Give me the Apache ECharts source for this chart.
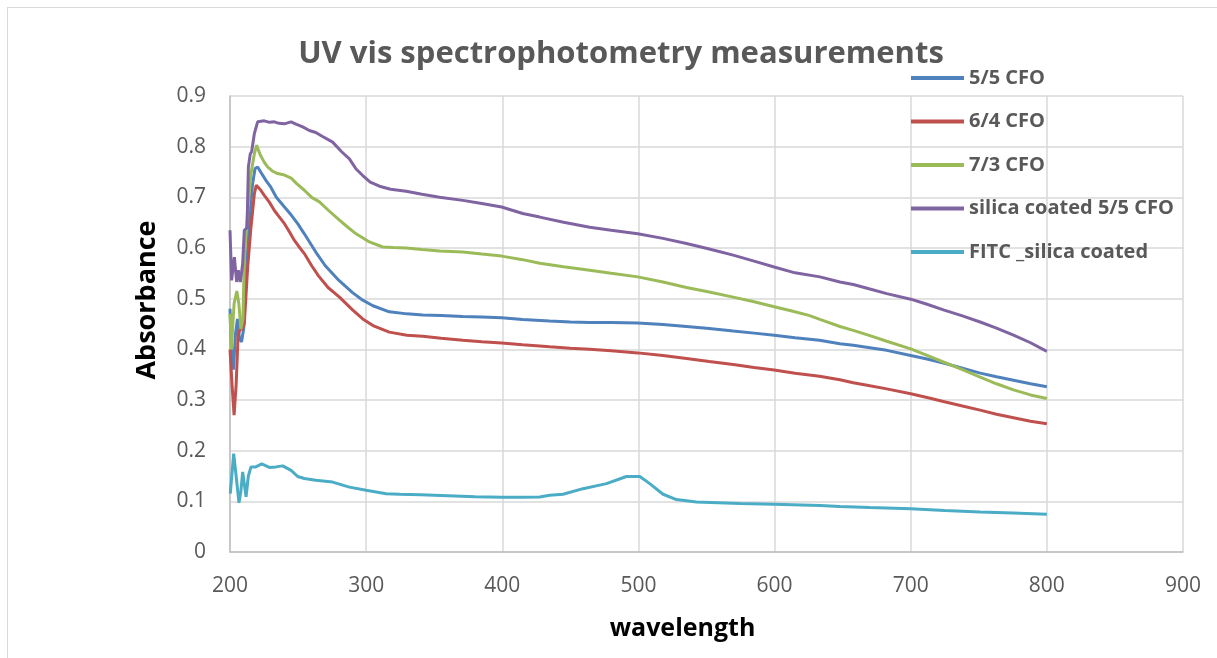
<!DOCTYPE html>
<html>
<head>
<meta charset="utf-8">
<script src="https://cdn.jsdelivr.net/npm/echarts@6/dist/echarts.min.js"></script>
<style>
  html, body { margin: 0; padding: 0; background: #fff; }
  #frame { position: absolute; left: 7px; top: 7px; width: 1300px; height: 700px; border: 1.5px solid #d9d9d9; }
  #container { position: absolute; left: 0; top: 0; width: 1217px; height: 658px; }
</style>
</head>
<body>
<div id="frame"></div>
<div id="container"></div>
<script>
/* wavelength (nm) / absorbance pairs */
var names = ['5/5 CFO', '6/4 CFO', '7/3 CFO', 'silica coated 5/5 CFO', 'FITC _silica coated'];
var colors = ['#4F81BD', '#C0504D', '#9BBB59', '#8064A2', '#4BACC6'];

var cfo55 = [
    [200, 0.48], [201, 0.40], [202.5, 0.36], [204, 0.43], [205.5, 0.46], [207, 0.42], [208.5, 0.415],
    [210, 0.44], [211.8, 0.543], [214.2, 0.655], [216.6, 0.727], [218.4, 0.757], [220.3, 0.76],
    [223, 0.748], [226.5, 0.733], [230, 0.72], [234, 0.70], [240, 0.681], [245, 0.665], [249.7, 0.648],
    [254.6, 0.628], [263, 0.592], [270, 0.565], [280, 0.536], [290, 0.512], [297.5, 0.497], [305, 0.486],
    [317, 0.474], [330, 0.470], [341.6, 0.468], [355, 0.467], [371, 0.465], [385, 0.464], [399.5, 0.4625],
    [415, 0.459], [434.8, 0.456], [450, 0.454], [464.2, 0.453], [480, 0.453], [499.5, 0.452], [518, 0.449],
    [535.3, 0.445], [552, 0.441], [569.6, 0.436], [585, 0.432], [599.7, 0.428], [615, 0.423], [633, 0.418],
    [648, 0.411], [657.8, 0.408], [670, 0.403], [682.4, 0.398], [700, 0.388], [712, 0.381], [724, 0.373],
    [738, 0.363], [751, 0.353], [763, 0.346], [775.5, 0.339], [788, 0.332], [800, 0.326]
];

var cfo64 = [
    [200, 0.40], [201.5, 0.33], [203, 0.27], [204.5, 0.33], [206, 0.43], [207.5, 0.44], [209, 0.44],
    [210.5, 0.45], [213, 0.5625], [215.4, 0.641], [217.9, 0.707], [219.3, 0.724], [222, 0.716],
    [225.2, 0.704], [229, 0.69], [232.6, 0.674], [236, 0.662], [240, 0.648], [243.6, 0.632], [247.3, 0.615],
    [250, 0.605], [254.6, 0.589], [260, 0.565], [265, 0.545], [272, 0.522], [280.4, 0.503], [290, 0.478],
    [297.5, 0.46], [305, 0.447], [317, 0.434], [330, 0.428], [341.6, 0.426], [355, 0.422], [371, 0.418],
    [385, 0.415], [399.5, 0.4125], [415, 0.409], [434.8, 0.405], [450, 0.402], [464.2, 0.40], [480, 0.397],
    [499.5, 0.393], [518, 0.388], [535.3, 0.382], [552, 0.376], [569.6, 0.37], [585, 0.364], [599.7, 0.359],
    [615, 0.353], [633, 0.347], [648, 0.34], [657.8, 0.334], [670, 0.328], [682.4, 0.322], [700, 0.3125],
    [712, 0.305], [724, 0.297], [738, 0.288], [751, 0.28], [763, 0.272], [775.5, 0.265], [788, 0.258], [800, 0.253]
];

var cfo73 = [
    [200, 0.47], [201, 0.40], [203, 0.49], [205, 0.515], [206.5, 0.49], [208, 0.44], [209.5, 0.46],
    [210.5, 0.576], [213, 0.674], [215.4, 0.747], [217.9, 0.786], [219.6, 0.803], [222, 0.785],
    [225, 0.77], [227.6, 0.76], [231, 0.752], [235, 0.747], [240, 0.744], [244.9, 0.738], [249, 0.727],
    [254.6, 0.714], [260, 0.70], [265.7, 0.691], [272, 0.675], [280.4, 0.655], [287, 0.64], [292.6, 0.628],
    [302.4, 0.612], [312.2, 0.602], [320, 0.601], [329.4, 0.60], [341, 0.597], [353.9, 0.594], [371, 0.592],
    [385, 0.588], [399.5, 0.584], [415, 0.577], [427.5, 0.57], [445, 0.563], [464.2, 0.556], [480, 0.55],
    [499.5, 0.543], [518, 0.533], [535.3, 0.522], [552, 0.513], [569.6, 0.503], [585, 0.494], [599.7, 0.484],
    [612, 0.476], [625.2, 0.467], [633.3, 0.459], [648, 0.445], [657.8, 0.4375], [670, 0.427], [682.4, 0.416],
    [700, 0.401], [712, 0.388], [724, 0.375], [738, 0.36], [751, 0.345], [763, 0.332], [775.5, 0.32],
    [788, 0.31], [800, 0.303]
];

var silica55 = [
    [200, 0.635], [201.2, 0.536], [203.2, 0.582], [204.9, 0.533], [206.1, 0.556], [207.6, 0.533],
    [209.3, 0.569], [210.5, 0.635], [212.5, 0.64], [213.5, 0.76], [214.9, 0.786], [215.9, 0.79],
    [217.9, 0.826], [220.3, 0.849], [225.2, 0.851], [229, 0.848], [232.6, 0.849], [236, 0.846],
    [239.9, 0.845], [244.9, 0.849], [248, 0.845], [253.4, 0.839], [258.3, 0.832], [263, 0.828],
    [268, 0.82], [275.4, 0.809], [282, 0.79], [287.7, 0.776], [292.6, 0.756], [297.5, 0.743], [303, 0.73],
    [309.8, 0.722], [318, 0.716], [329.4, 0.712], [341, 0.706], [353.9, 0.70], [371, 0.694], [385, 0.688],
    [399.5, 0.681], [415, 0.668], [427.5, 0.661], [445, 0.651], [464.2, 0.641], [480, 0.635], [499.5, 0.628],
    [518, 0.619], [535.3, 0.609], [552, 0.598], [569.6, 0.586], [585, 0.574], [599.7, 0.5625], [615, 0.551],
    [633.3, 0.543], [648, 0.533], [657.8, 0.528], [670, 0.519], [682.4, 0.51], [700, 0.499], [712, 0.489],
    [724, 0.478], [738, 0.466], [751, 0.454], [763, 0.442], [775.5, 0.428], [788, 0.413], [800, 0.396]
];

var fitc = [
    [200.2, 0.115], [202.7, 0.194], [204.5, 0.15], [206.6, 0.097], [208, 0.12], [209.3, 0.158],
    [211.8, 0.109], [213.5, 0.15], [215.4, 0.168], [219, 0.168], [223.3, 0.174], [228.9, 0.167],
    [233.8, 0.168], [238.7, 0.170], [244.9, 0.161], [249.7, 0.149], [254.6, 0.145], [263, 0.1415],
    [275.4, 0.138], [287.7, 0.128], [300, 0.122], [314.7, 0.115], [324.5, 0.114], [340, 0.113],
    [360, 0.111], [380, 0.109], [400, 0.108], [415, 0.108], [427.5, 0.1085], [434.8, 0.112], [444.6, 0.114],
    [459.3, 0.125], [476.5, 0.135], [491.2, 0.149], [501, 0.149], [508.3, 0.135], [518.1, 0.114],
    [527.9, 0.1035], [542.6, 0.0987], [574.5, 0.0955], [599.7, 0.094], [633.3, 0.092], [648, 0.09],
    [670, 0.088], [700, 0.0855], [725, 0.082], [751, 0.079], [775, 0.077], [800, 0.0744]
];

var seriesData = [cfo55, cfo64, cfo73, silica55, fitc];

var fontFamily = '"Open Sans", Lato, sans-serif';

var dom = document.getElementById('container');
var myChart = echarts.init(dom);

var series = [];
for (var i = 0; i < seriesData.length; i++) {
    series.push({
        name: names[i],
        type: 'line',
        data: seriesData[i],
        showSymbol: false,
        symbol: 'none',
        lineStyle: { width: 3, color: colors[i] },
        itemStyle: { color: colors[i] },
        animation: false
    });
}

var option = {
    title: {
        text: 'UV vis spectrophotometry measurements',
        left: 616,
        textAlign: 'center',
        top: 34,
        textStyle: { fontFamily: fontFamily, fontSize: 31, fontWeight: 'bold', color: '#595959' }
    },
    legend: {
        orient: 'vertical',
        left: 906,
        top: 63,
        itemWidth: 53,
        itemHeight: 4,
        itemGap: 23.5,
        icon: 'rect',
        data: names,
        textStyle: { fontFamily: fontFamily, fontSize: 20, fontWeight: 'bold', color: '#595959' }
    },
    grid: { left: 230, right: 34, top: 96, bottom: 106, containLabel: false },
    xAxis: {
        type: 'value',
        min: 200,
        max: 900,
        interval: 100,
        name: 'wavelength',
        nameLocation: 'middle',
        nameGap: 64,
        nameTextStyle: { fontFamily: fontFamily, fontSize: 25, fontWeight: 'bold', color: '#000', padding: [0, 48, 0, 0] },
        axisLine: { show: true, lineStyle: { color: '#bfbfbf', width: 1.5 } },
        axisTick: { show: false },
        axisLabel: { margin: 24, fontFamily: fontFamily, fontSize: 21, color: '#595959' },
        splitLine: { show: true, lineStyle: { color: '#d9d9d9', width: 1.5 } }
    },
    yAxis: {
        type: 'value',
        min: 0,
        max: 0.9,
        interval: 0.1,
        name: 'Absorbance',
        nameLocation: 'middle',
        nameRotate: 90,
        nameGap: 69,
        nameTextStyle: { fontFamily: fontFamily, fontSize: 27, fontWeight: 'bold', color: '#000', padding: [0, 0, 0, 48] },
        axisLine: { show: true, lineStyle: { color: '#bfbfbf', width: 1.5 } },
        axisTick: { show: false },
        axisLabel: { margin: 24, fontFamily: fontFamily, fontSize: 21, color: '#595959' },
        splitLine: { show: true, lineStyle: { color: '#d9d9d9', width: 1.5 } }
    },
    series: series
};

myChart.setOption(option, true);
</script>
</body>
</html>
